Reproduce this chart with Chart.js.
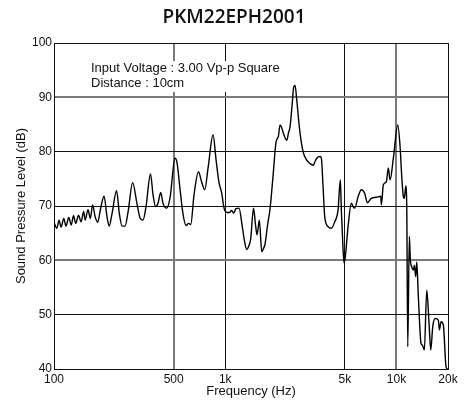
<!DOCTYPE html>
<html lang="en">
<head>
    <meta charset="UTF-8">
    <title>PKM22EPH2001</title>
    <script src="https://cdn.jsdelivr.net/npm/chart.js"></script>
    <style>
        body { margin: 0; background: #fff; }
        #wrap { width: 464px; height: 416px; }
    </style>
</head>
<body>
    <div id="wrap">
        <canvas id="splChart" width="464" height="416"></canvas>
    </div>

    <script>
        // frequency response
        const freqHz = [100, 104, 107, 110, 114, 117.5, 122, 126, 130, 134, 139, 144, 149, 152, 158, 163, 168,
            174, 180, 187, 196, 204, 210, 218, 232, 241, 250, 260, 271, 288, 305, 318, 331, 345, 366, 379, 392,
            405, 420, 433, 455, 476, 509, 523, 545, 567, 590, 611, 629, 657, 698, 727, 759, 794, 849, 884, 920,
            952, 984, 1025, 1060, 1089, 1118, 1156, 1204, 1254, 1297, 1336, 1368, 1409, 1463, 1503, 1534, 1582,
            1634, 1674, 1708, 1767, 1827, 1902, 1981, 2043, 2090, 2133, 2185, 2287, 2343, 2391, 2456, 2506, 2558,
            2617, 2681, 2735, 2848, 2985, 3129, 3271, 3346, 3424, 3579, 3642, 3727, 3813, 3986, 4167, 4362, 4560,
            4703, 4766, 4877, 4943, 5030, 5216, 5453, 5579, 5708, 5967, 6238, 6529, 6762, 7136, 7632, 8097, 8163,
            8385, 8730, 8968, 9176, 9591, 10177, 10496, 10739, 10972, 11121, 11332, 11486, 11641, 11894, 12055,
            12284, 12551, 12721, 12963, 13138, 13424, 13920, 14165, 14552, 15029, 15501, 15860, 16292, 16805,
            17567, 17805, 18216, 18789, 19483, 19900];
        const splDb = [67.0, 65.9, 67.4, 66.1, 67.7, 66.3, 67.9, 66.5, 68.2, 66.8, 68.3, 67.1, 69.0, 67.4, 69.3, 67.7, 70.2,
            68.0, 67.0, 69.5, 71.8, 68.0, 66.3, 68.5, 72.8, 68.5, 66.3, 66.3, 69.0, 74.3, 70.5, 67.8, 67.4, 70.0, 75.9, 72.0, 69.9,
            70.5, 72.5, 70.5, 69.6, 71.5, 78.8, 78.0, 73.0, 68.5, 66.4, 66.8, 66.6, 72.0, 76.3, 74.5, 73.0, 77.0, 83.1, 78.5, 74.3,
            72.5, 69.6, 68.8, 68.8, 69.2, 68.7, 69.5, 69.6, 66.5, 63.5, 62.0, 62.5, 64.0, 69.6, 66.5, 64.7, 67.4,
            61.6, 62.2, 63.0, 66.5, 69.5, 75.5, 81.8, 82.8, 84.9, 84.5, 83.4, 82.1, 83.5, 84.6, 88.5, 91.7, 92.2,
            89.5, 86.0, 83.4, 80.0, 78.5, 77.8, 77.5, 78.2, 78.8, 79.1, 78.8, 73.6, 68.0, 66.2, 65.9, 67.1, 69.3,
            74.8, 69.3, 62.0, 59.5, 60.7, 66.2, 70.5, 69.9, 69.6, 71.7, 73.0, 72.3, 70.6, 71.4, 71.6, 71.8, 70.2,
            73.9, 74.5, 77.0, 74.8, 78.8, 84.9, 81.0, 75.4, 71.7, 71.4, 73.7, 69.9, 44.1, 64.4, 60.1,
            58.8, 58.2, 59.1, 57.0, 59.7, 53.3, 44.7, 44.4, 43.5, 54.5, 48.4, 43.5, 47.8, 49.3, 49.0, 47.2,
            48.7, 48.1, 40.4, 40.0];

        const xTicks = [100, 500, 1000, 5000, 10000, 20000];
        const xTickLabels = ['100', '500', '1k', '5k', '10k', '20k'];
        const greyX = [500, 10000];
        const greyY = [60, 90];

        const titleText = 'PKM22EPH2001';
        const noteLines = ['Input Voltage : 3.00 Vp-p Square', 'Distance : 10cm'];

        // title and the note box in the top left corner
        const textPlugin = {
            id: 'texts',
            beforeDatasetsDraw(chart) {
                const ctx = chart.ctx;
                ctx.save();
                ctx.fillStyle = '#fff';
                ctx.fillRect(88, 61, 200, 31);
                ctx.fillStyle = '#111';
                ctx.font = "13px 'Liberation Sans', Arial, sans-serif";
                ctx.textAlign = 'left';
                ctx.textBaseline = 'middle';
                ctx.fillText(noteLines[0], 91, 68);
                ctx.fillText(noteLines[1], 91, 83);
                ctx.restore();
            },
            afterDraw(chart) {
                const ctx = chart.ctx;
                ctx.save();
                ctx.fillStyle = '#111';
                ctx.font = "600 19px 'Open Sans', sans-serif";
                ctx.textAlign = 'center';
                ctx.textBaseline = 'middle';
                ctx.fillText(titleText, 234, 18);
                ctx.restore();
            }
        };

        const tickFont = { family: "'Liberation Sans', Arial, sans-serif", size: 12 };
        const axisFont = { family: "'Liberation Sans', Arial, sans-serif", size: 13 };

        new Chart(document.getElementById('splChart'), {
            type: 'line',
            data: {
                datasets: [{
                    data: freqHz.map((f, i) => ({ x: f, y: splDb[i] })),
                    borderColor: '#000',
                    borderWidth: 1.4,
                    pointRadius: 0,
                    cubicInterpolationMode: 'monotone',
                    fill: false
                }]
            },
            options: {
                responsive: false,
                animation: false,
                events: [],
                layout: { padding: { top: 43, right: 16, left: 0, bottom: 0 } },
                plugins: { legend: { display: false }, tooltip: { enabled: false } },
                scales: {
                    x: {
                        type: 'logarithmic',
                        min: 100,
                        max: 20000,
                        afterBuildTicks: s => { s.ticks = xTicks.map(v => ({ value: v })); },
                        afterFit: s => { s.height = 47; },
                        ticks: {
                            autoSkip: false,
                            maxRotation: 0,
                            padding: 3,
                            color: '#111',
                            font: tickFont,
                            callback: (v, i) => xTickLabels[i]
                        },
                        grid: {
                            drawTicks: false,
                            color: c => (c.tick && greyX.includes(c.tick.value)) ? '#7a7a7a' : '#111',
                            lineWidth: c => (c.tick && greyX.includes(c.tick.value)) ? 2 : 1
                        },
                        border: { color: '#111', width: 1 },
                        title: {
                            display: true,
                            text: 'Frequency (Hz)',
                            color: '#111',
                            font: axisFont,
                            padding: { top: 0, bottom: 17 }
                        }
                    },
                    y: {
                        min: 40,
                        max: 100,
                        afterFit: s => { s.width = 54; },
                        ticks: {
                            stepSize: 10,
                            padding: 2,
                            color: '#111',
                            font: tickFont
                        },
                        grid: {
                            drawTicks: false,
                            color: c => (c.tick && greyY.includes(c.tick.value)) ? '#7a7a7a' : '#111',
                            lineWidth: c => (c.tick && greyY.includes(c.tick.value)) ? 2 : 1
                        },
                        border: { color: '#111', width: 1 },
                        title: {
                            display: true,
                            text: 'Sound Pressure Level (dB)',
                            color: '#111',
                            font: axisFont,
                            padding: { top: 14, bottom: 0 }
                        }
                    }
                }
            },
            plugins: [textPlugin]
        });
    </script>
</body>
</html>
